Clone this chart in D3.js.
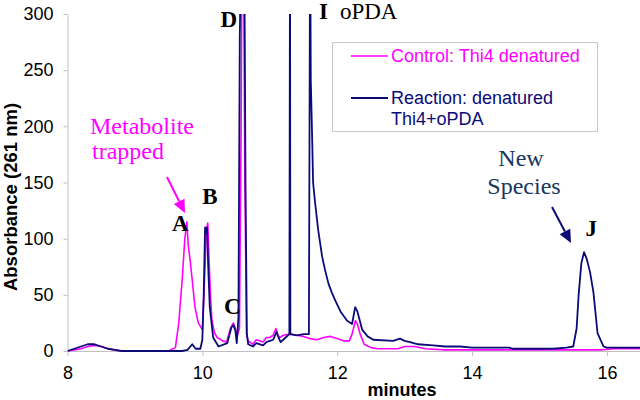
<!DOCTYPE html>
<html>
<head>
<meta charset="utf-8">
<script src="https://cdn.jsdelivr.net/npm/d3@7/dist/d3.min.js"></script>
<style>
  html, body { margin: 0; padding: 0; background: #fff; }
  svg { display: block; }
</style>
</head>
<body>
<svg id="chart" width="640" height="400"></svg>
<script>
// ---- data ----
const xTicks = [8, 10, 12, 14, 16];
const yTicks = [0, 50, 100, 150, 200, 250, 300];

const controlTime = [8.0,8.1,8.2,8.3,8.4,8.5,8.6,8.7,8.8,9.5,9.6,9.65,9.70,9.74,9.77,9.79,9.82,9.85,9.89,9.94,10.0,10.03,10.06,10.08,10.10,10.12,10.14,10.18,10.22,10.30,10.36,10.41,10.46,10.49,10.51,10.55,10.575,10.59,10.61,10.63,10.655,10.68,10.75,10.8,10.9,10.95,11.0,11.05,11.09,11.12,11.15,11.2,11.3,11.4,11.5,11.6,11.7,11.8,11.9,11.95,12.05,12.1,12.18,12.22,12.27,12.3,12.34,12.4,12.5,12.6,12.9,13.0,13.15,13.3,13.6,15.0,15.9,16.1,16.5];
const controlAbs  = [0,1,2,4,5,4,2,1,0,0,3,25,63,100,115,95,80,63,39,25,19,60,108,114,80,50,28,16,12,9,8,19,25,20,12,20,200,380,380,150,15,9,6,10,8,12,12,14,20,14,12,14,15,14,13,11,10,12,13,12,10,9,9,15,27,24,15,6,3,2,2,4,4,2,1,1,1,2,2];

const reactionTime = [8.0,8.1,8.2,8.3,8.4,8.5,8.6,8.7,8.8,9.7,9.78,9.85,9.9,9.97,10.0,10.02,10.04,10.055,10.07,10.085,10.11,10.16,10.24,10.37,10.43,10.46,10.49,10.51,10.535,10.555,10.58,10.62,10.64,10.66,10.68,10.75,10.8,10.9,10.95,11.0,11.05,11.1,11.13,11.16,11.2,11.27,11.29,11.3,11.305,11.4,11.5,11.58,11.598,11.608,11.628,11.642,11.672,11.717,11.776,11.82,11.87,11.92,11.97,12.05,12.147,12.22,12.266,12.3,12.37,12.45,12.535,12.83,12.93,13.0,13.08,13.2,13.42,13.6,13.82,14.0,14.55,14.6,15.2,15.4,15.5,15.55,15.58,15.62,15.66,15.7,15.75,15.8,15.86,15.95,16.0,16.5];
const reactionAbs  = [0,2,4,6,6,4,2,1,0,0,1,6,2,2,10,50,110,105,110,78,39,12,4,7,21,23,18,7,30,280,380,380,150,15,6,4,7,5,8,9,10,17,12,8,10,14,15,380,15,14,15,15,380,241,190,150,132,108,84,72,60,52,45,35,27,24,39,35,19,13,10,9,11,9,8,6,5,4,4,3,3,2,2,3,4,20,50,78,88,82,70,52,16,4,3,3];

const seriesNames = ["Control: Thi4 denatured", "Reaction: denatured", "Thi4+oPDA"];
const peakLabels = [
  {text: "A", t: 9.55, v: 107},
  {text: "B", t: 10.0, v: 131},
  {text: "C", t: 10.32, v: 33},
  {text: "D", t: 10.27, v: 288},
  {text: "J", t: 15.68, v: 102}
];

// ---- drawing ----
const svg = d3.select("#chart");
const x = d3.scaleLinear().domain([8, 16.49]).range([67.5, 640]);
const y = d3.scaleLinear().domain([0, 300]).range([351, 14]);

const magenta = "#ff00ff";
const navy = "#0b0b78";
const axisGray = "#c0c0c0";

svg.append("defs").append("clipPath").attr("id", "plotclip")
  .append("rect").attr("x", 67.5).attr("y", y(300)).attr("width", 640 - 67.5).attr("height", y(0) - y(300) + 2);

// axes
const gx = svg.append("g").attr("transform", `translate(0,${y(0)})`)
  .call(d3.axisBottom(x).tickValues(xTicks).tickSize(5).tickSizeOuter(0).tickPadding(10).tickFormat(d3.format("d")));
const gy = svg.append("g").attr("transform", `translate(${x(8)},0)`)
  .call(d3.axisLeft(y).tickValues(yTicks).tickSize(4).tickSizeOuter(0).tickPadding(10).tickFormat(d3.format("d")));
[gx, gy].forEach(g => {
  g.selectAll("path, line").attr("stroke", axisGray).attr("stroke-width", 1);
  g.selectAll("text").attr("font-family", "Liberation Sans, Arial, sans-serif").attr("font-size", 18).attr("fill", "#000");
});
gx.selectAll("text").attr("dy", "0.71em");

// axis titles
svg.append("text").attr("x", 402).attr("y", 396).attr("text-anchor", "middle")
  .attr("font-family", "Liberation Sans, Arial, sans-serif").attr("font-weight", "bold").attr("font-size", 18)
  .text("minutes");
svg.append("text").attr("transform", "translate(17,197) rotate(-90)").attr("text-anchor", "middle")
  .attr("font-family", "Liberation Sans, Arial, sans-serif").attr("font-weight", "bold").attr("font-size", 18.5)
  .text("Absorbance (261 nm)");

// lines
const lineGen = d3.line().x(d => x(d[0])).y(d => y(d[1]));
const plot = svg.append("g").attr("clip-path", "url(#plotclip)");
plot.append("path").datum(controlTime.map((t, i) => [t, controlAbs[i]]))
  .attr("fill", "none").attr("stroke", magenta).attr("stroke-width", 1.6).attr("stroke-linejoin", "round")
  .attr("d", lineGen);
plot.append("path").datum(reactionTime.map((t, i) => [t, reactionAbs[i]]))
  .attr("fill", "none").attr("stroke", navy).attr("stroke-width", 1.8).attr("stroke-linejoin", "round")
  .attr("d", lineGen);

// legend
const lg = svg.append("g");
lg.append("rect").attr("x", 332.5).attr("y", 42.5).attr("width", 265).attr("height", 89)
  .attr("fill", "#fff").attr("stroke", "#c8c8c8").attr("stroke-width", 1);
lg.append("line").attr("x1", 351).attr("x2", 388).attr("y1", 56).attr("y2", 56).attr("stroke", magenta).attr("stroke-width", 1.6);
lg.append("line").attr("x1", 351).attr("x2", 388).attr("y1", 98).attr("y2", 98).attr("stroke", navy).attr("stroke-width", 1.8);
const lgFont = "Liberation Sans, Arial, sans-serif";
lg.append("text").attr("x", 391).attr("y", 62).attr("fill", magenta).attr("font-family", lgFont).attr("font-size", 18).text(seriesNames[0]);
lg.append("text").attr("x", 391).attr("y", 104).attr("fill", navy).attr("font-family", lgFont).attr("font-size", 18).text(seriesNames[1]);
lg.append("text").attr("x", 391).attr("y", 125).attr("fill", navy).attr("font-family", lgFont).attr("font-size", 18).text(seriesNames[2]);

// peak letters
const serif = "Liberation Serif, Times New Roman, serif";
peakLabels.forEach(p => {
  svg.append("text").attr("x", x(p.t)).attr("y", y(p.v)).attr("font-family", serif)
    .attr("font-weight", "bold").attr("font-size", 23).attr("fill", "#000").text(p.text);
});
const iLab = svg.append("text").attr("x", x(11.73)).attr("y", 19).attr("font-family", serif).attr("font-size", 23).attr("fill", "#000");
iLab.append("tspan").attr("font-weight", "bold").text("I");
iLab.append("tspan").attr("dx", 12).text("oPDA");

// annotations
const ann1 = svg.append("text").attr("font-family", serif).attr("font-size", 24).attr("fill", magenta);
ann1.append("tspan").attr("x", 90).attr("y", 134).text("Metabolite");
ann1.append("tspan").attr("x", 92).attr("y", 159).text("trapped");
const ann2 = svg.append("text").attr("font-family", serif).attr("font-size", 24).attr("fill", "#17375e").attr("text-anchor", "middle");
ann2.append("tspan").attr("x", 521).attr("y", 166).text("New");
ann2.append("tspan").attr("x", 524).attr("y", 194).text("Species");

function arrow(x1, y1, x2, y2, color) {
  const ang = Math.atan2(y2 - y1, x2 - x1);
  const len = 13, w = 6;
  const bx = x2 - len * Math.cos(ang), by = y2 - len * Math.sin(ang);
  svg.append("line").attr("x1", x1).attr("y1", y1).attr("x2", bx).attr("y2", by)
    .attr("stroke", color).attr("stroke-width", 2);
  const px = -Math.sin(ang) * w, py = Math.cos(ang) * w;
  svg.append("path").attr("d", `M${x2},${y2}L${bx + px},${by + py}L${bx - px},${by - py}Z`).attr("fill", color);
}
arrow(167, 177, 185, 213, magenta);
arrow(552, 207, 571, 243, navy);
</script>
</body>
</html>
